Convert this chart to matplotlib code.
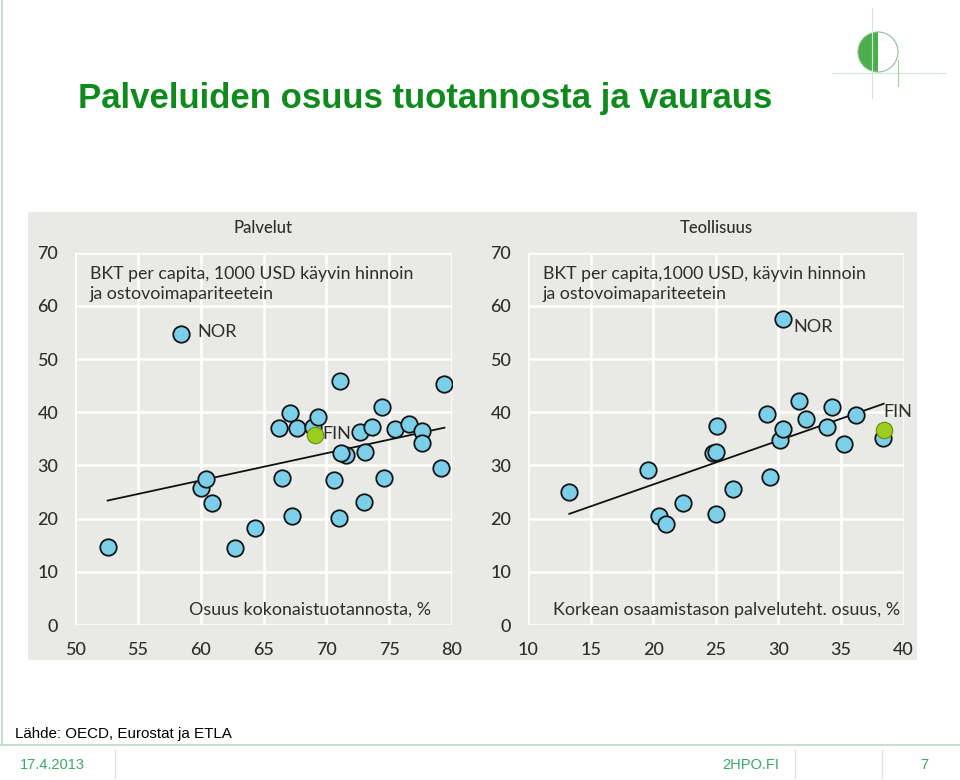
import numpy as np
import matplotlib.pyplot as plt
from matplotlib.patches import Rectangle, Wedge, Circle

# Palvelut (services share of output, %) vs GDP per capita
pal_x = [58.4, 52.6, 60.0, 60.4, 60.9, 62.7, 64.3, 66.2, 66.5, 67.1, 67.3, 67.7,
         68.9, 69.3, 70.6, 71.1, 71.0, 71.6, 71.2, 72.7, 73.1, 73.0, 73.6, 74.4,
         74.6, 75.5, 76.6, 77.6, 77.6, 79.1, 79.4]
pal_y = [54.8, 14.7, 25.7, 27.4, 23.0, 14.5, 18.2, 37.0, 27.6, 39.8, 20.5, 37.0,
         37.3, 39.2, 27.3, 45.8, 20.1, 32.0, 32.4, 36.2, 32.6, 23.1, 37.3, 40.9,
         27.6, 36.9, 37.8, 36.5, 34.2, 29.5, 45.3]
pal_fin = (69.1, 35.7)
pal_nor = (58.4, 54.8)
pal_trend_x = [52.6, 79.4]
pal_trend_y = [23.4, 37.1]

# Teollisuus (share of knowledge-intensive services, %) vs GDP per capita
teo_x = [13.3, 19.6, 20.5, 21.05, 22.4, 24.8, 25.0, 25.1, 25.0, 26.4, 29.1, 29.3,
         30.1, 30.4, 30.4, 31.6, 32.2, 33.9, 34.3, 35.2, 36.2, 38.35]
teo_y = [25.1, 29.2, 20.5, 19.0, 23.0, 32.4, 32.6, 37.4, 20.8, 25.6, 39.6, 27.8,
         34.8, 36.9, 57.6, 42.2, 38.8, 37.2, 41.0, 34.0, 39.4, 35.2]
teo_fin = (38.4, 36.7)
teo_nor = (30.4, 57.6)
teo_trend_x = [13.3, 38.4]
teo_trend_y = [20.9, 41.6]

W, H = 960, 780
BG = '#e9e9e5'
TXT = '#2e2e2e'
GREEN = '#0f8a1c'
FOOT = '#3aa866'
LINE = '#b5dcc0'


def fx(x):
    return x / W


def fy(y):
    return 1 - y / H


fig = plt.figure(figsize=(9.6, 7.8), dpi=100)
fig.patch.set_facecolor('white')

# slide decorations drawn in pixel coordinates
deco = fig.add_axes([0, 0, 1, 1], zorder=0)
deco.set_xlim(0, W)
deco.set_ylim(H, 0)
deco.axis('off')
deco.add_patch(Rectangle((28, 212), 889, 448, facecolor=BG, edgecolor='none'))
deco.plot([2, 2], [0, 745], color=LINE, lw=1.2)
deco.plot([0, W], [745, 745], color=LINE, lw=1.2)
for xv in [115, 795, 882]:
    deco.plot([xv, xv], [750, 778], color='#d8e8dc', lw=1)
# logo
deco.plot([872, 872], [8, 98], color='#d5e5d5', lw=0.8)
deco.plot([832, 945], [73, 73], color='#d5e5d5', lw=0.8)
deco.plot([898, 898], [60, 86], color='#a0cca0', lw=0.8)
deco.add_patch(Wedge((878, 52), 20, 90, 270, facecolor='#4cae4c', edgecolor='none'))
deco.add_patch(Circle((878, 52), 20, facecolor='none', edgecolor='#8cc08c', lw=0.8))

fig.text(fx(78), fy(108), 'Palveluiden osuus tuotannosta ja vauraus',
         fontsize=25, fontweight='bold', color=GREEN, family='Liberation Sans',
         va='baseline', ha='left')
fig.text(fx(15), fy(734), 'Lähde: OECD, Eurostat ja ETLA', fontsize=10.9,
         family=['Liberation Sans Narrow', 'Liberation Sans'], va='center', color='black')
fig.text(fx(20), fy(765), '17.4.2013', fontsize=10.5, color=FOOT,
         family=['Liberation Sans Narrow', 'Liberation Sans'], va='center')
fig.text(fx(751), fy(765), '2HPO.FI', fontsize=10.5, color=FOOT,
         family=['Liberation Sans Narrow', 'Liberation Sans'], va='center', ha='center')
fig.text(fx(924), fy(765), '7', fontsize=10.5, color=FOOT,
         family=['Liberation Sans Narrow', 'Liberation Sans'], va='center', ha='center')

plt.rcParams['font.family'] = ['Lato', 'DejaVu Sans']


def panel(rect, xs, ys, fin, nor, tx, ty, xlim, title, ylab, xlab, xlab_x, nor_off, fin_off):
    ax = fig.add_axes(rect, zorder=1)
    ax.set_facecolor(BG)
    ax.set_xlim(*xlim)
    ax.set_ylim(0, 70)
    ax.set_xticks(np.arange(xlim[0], xlim[1] + 1, 5))
    ax.set_yticks(np.arange(0, 71, 10))
    ax.grid(True, color='white', lw=1.8)
    ax.set_axisbelow(True)
    for s in ax.spines.values():
        s.set_visible(False)
    ax.tick_params(length=0, labelsize=13, labelcolor=TXT)
    ax.tick_params(axis='y', pad=12)
    ax.tick_params(axis='x', pad=12)
    for lab in ax.get_xticklabels() + ax.get_yticklabels():
        lab.set_fontweight('medium')
    ax.plot(tx, ty, color='#111111', lw=1.3, zorder=2)
    ax.scatter(xs, ys, s=140, facecolor='#7ccfe9', edgecolor='#151515', lw=1.3, zorder=3)
    ax.scatter([fin[0]], [fin[1]], s=140, facecolor='#9ccc1c', edgecolor='#6a8a10', lw=0.8, zorder=4)
    ax.text(nor[0] + nor_off[0], nor[1] + nor_off[1], 'NOR', fontsize=13, color=TXT,
            va='center', ha='left', zorder=5)
    ax.text(fin[0] + fin_off[0], fin[1] + fin_off[1], 'FIN', fontsize=13, color=TXT,
            va='center', ha='left', zorder=5)
    ax.text(0.5, 1.066, title, transform=ax.transAxes, fontsize=12, color=TXT,
            ha='center', va='center', fontweight='medium')
    ax.text(0.04, 0.965, ylab, transform=ax.transAxes, fontsize=12.8, color=TXT,
            ha='left', va='top', linespacing=1.35)
    ax.text(xlab_x, 0.04, xlab, transform=ax.transAxes, fontsize=12.9, color=TXT,
            ha='right', va='center')
    return ax


panel([fx(75), fy(625), 377 / W, 372.3 / H], pal_x, pal_y, pal_fin, pal_nor,
      pal_trend_x, pal_trend_y, (50, 80), 'Palvelut',
      'BKT per capita, 1000 USD käyvin hinnoin\nja ostovoimapariteetein',
      'Osuus kokonaistuotannosta, %', 0.944, (1.3, 0.2), (0.55, 0.3))
panel([fx(528), fy(625), 375.7 / W, 372.3 / H], teo_x, teo_y, teo_fin, teo_nor,
      teo_trend_x, teo_trend_y, (10, 40), 'Teollisuus',
      'BKT per capita,1000 USD, käyvin hinnoin\nja ostovoimapariteetein',
      'Korkean osaamistason palveluteht. osuus, %', 0.99, (0.8, -1.6), (-0.05, 3.3))

fig.savefig('out.png', dpi=100)
